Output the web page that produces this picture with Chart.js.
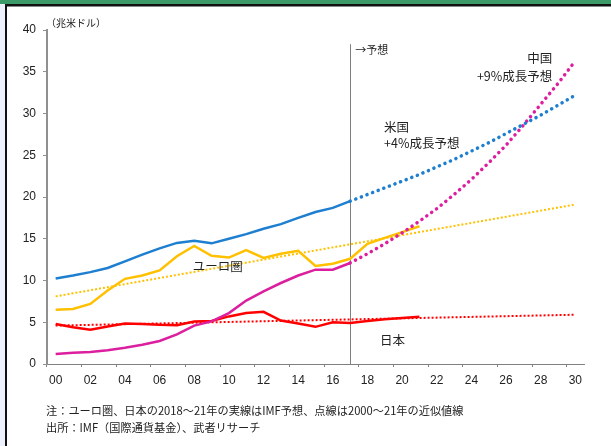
<!DOCTYPE html>
<html>
<head>
<meta charset="utf-8">
<script src="https://cdn.jsdelivr.net/npm/chart.js@4.4.1/dist/chart.umd.min.js"></script>
<style>
  html, body { margin: 0; padding: 0; background: #fff; }
  #wrap { width: 611px; height: 446px; position: relative; }
</style>
</head>
<body>
<div id="wrap"><canvas id="gdpChart" width="611" height="446"></canvas></div>
<script>
// years 2000-2030, labelled every second year
const years = ['00','01','02','03','04','05','06','07','08','09','10','11','12','13','14','15',
               '16','17','18','19','20','21','22','23','24','25','26','27','28','29','30'];

// 兆米ドル
const usActual = [10.25, 10.6, 11.0, 11.5, 12.3, 13.1, 13.85, 14.5, 14.75, 14.45, 15.0, 15.55,
                  16.2, 16.75, 17.5, 18.2, 18.7, 19.5];
const usForecast = [19.5, 20.3, 21.1, 21.9, 22.7, 23.6, 24.5, 25.5, 26.5, 27.6, 28.7, 29.8, 31.0, 32.2];

const chinaActual = [1.2, 1.35, 1.45, 1.65, 1.95, 2.3, 2.75, 3.55, 4.6, 5.1, 6.1, 7.6,
                     8.7, 9.7, 10.6, 11.3, 11.3, 12.1];
const chinaForecast = [12.1, 13.2, 14.4, 15.7, 17.1, 18.6, 20.3, 22.1, 24.1, 26.2, 28.6, 31.1, 33.6, 36.3];

const euroActual = [6.5, 6.6, 7.2, 8.8, 10.2, 10.6, 11.2, 12.9, 14.15, 12.95, 12.75, 13.65,
                    12.7, 13.2, 13.55, 11.75, 12.0, 12.6, 14.4, 15.1, 15.8, 16.5];
const euroTrendEnds = [8.1, 19.1];

const japanActual = [4.8, 4.4, 4.1, 4.5, 4.85, 4.8, 4.7, 4.65, 5.1, 5.15, 5.7, 6.1,
                     6.25, 5.2, 4.85, 4.45, 5.0, 4.9, 5.15, 5.35, 5.5, 5.65];
const japanTrendEnds = [4.6, 5.9];

const forecastStart = 17; // index of 2017

// pad a series out to the full 2000-2030 range
function fromIndex(start, values) {
  const out = new Array(years.length).fill(null);
  values.forEach((v, i) => { out[start + i] = v; });
  return out;
}
function trend(ends) {
  const out = new Array(years.length).fill(null);
  out[0] = ends[0];
  out[years.length - 1] = ends[1];
  return out;
}

const BLUE = '#1e7fd0', YELLOW = '#ffc000', RED = '#ff0000', MAGENTA = '#dc1f9e';
const JP = '"Noto Sans CJK JP", sans-serif';

const solid = (data, color) => ({ data, borderColor: color, borderWidth: 2.5, fill: false, tension: 0 });
const dots = (data, color) => ({ data, borderColor: color, borderWidth: 3.5, borderDash: [0.1, 5.9],
                                 borderCapStyle: 'round', fill: false, tension: 0 });
const fine = (data, color) => ({ data, borderColor: color, borderWidth: 2, borderDash: [2, 2],
                                 fill: false, spanGaps: true, tension: 0 });

// labels placed in data units: x = year index, y = value
const notes = [
  { text: '→予想', x: 17.3, y: 37.6, align: 'left', size: 11 },
  { text: '中国', x: 28.67, y: 36.6, align: 'right', size: 12.5 },
  { text: '+9%成長予想', x: 28.67, y: 34.5, align: 'right', size: 12.5 },
  { text: '米国', x: 18.96, y: 28.4, align: 'left', size: 12.5 },
  { text: '+4%成長予想', x: 18.96, y: 26.4, align: 'left', size: 12.5 },
  { text: 'ユーロ圏', x: 7.92, y: 11.76, align: 'left', size: 12.5 },
  { text: '日本', x: 18.73, y: 2.9, align: 'left', size: 12.5 }
];

const framePlugin = {
  id: 'frame',
  beforeDraw(chart) {
    const ctx = chart.ctx;
    ctx.save();
    ctx.fillStyle = '#ffffff';
    ctx.fillRect(0, 0, chart.width, chart.height);
    ctx.fillStyle = '#eef0fb';
    ctx.fillRect(0, 0, 5, chart.height);
    ctx.fillStyle = '#111';
    ctx.fillRect(5, 0, 2, chart.height);
    ctx.fillStyle = '#3c9a68';
    ctx.fillRect(0, 0, chart.width, 4);
    ctx.fillStyle = '#111';
    ctx.fillRect(5, 4, chart.width - 5, 2.5);
    ctx.restore();
  },
  beforeDatasetsDraw(chart) {
    const { ctx, scales: { x, y } } = chart;
    const px = Math.round(x.getPixelForValue(forecastStart)) + 0.5;
    ctx.save();
    ctx.strokeStyle = '#808080';
    ctx.lineWidth = 1;
    ctx.beginPath();
    ctx.moveTo(px, y.getPixelForValue(38.3));
    ctx.lineTo(px, y.getPixelForValue(0));
    ctx.stroke();
    ctx.restore();
  },
  afterDraw(chart) {
    const { ctx, scales: { x, y } } = chart;
    ctx.save();
    ctx.fillStyle = '#222';
    ctx.textBaseline = 'middle';
    notes.forEach(n => {
      ctx.font = n.size + 'px ' + JP;
      ctx.textAlign = n.align;
      ctx.fillText(n.text, x.getPixelForValue(n.x), y.getPixelForValue(n.y));
    });
    // unit and footnotes
    ctx.textAlign = 'left';
    ctx.font = '10px ' + JP;
    ctx.fillText('（兆米ドル）', 46, 23);
    ctx.font = '11.2px ' + JP;
    ctx.fillText('注：ユーロ圏、日本の2018～21年の実線はIMF予想、点線は2000～21年の近似値線', 46, 411);
    ctx.fillText('出所：IMF（国際通貨基金）、武者リサーチ', 46, 428);
    ctx.restore();
  }
};

new Chart(document.getElementById('gdpChart'), {
  type: 'line',
  data: {
    labels: years,
    datasets: [
      solid(fromIndex(0, usActual), BLUE),
      dots(fromIndex(forecastStart, usForecast), BLUE),
      dots(fromIndex(forecastStart, chinaForecast), MAGENTA),
      solid(fromIndex(0, chinaActual), MAGENTA),
      solid(fromIndex(0, euroActual), YELLOW),
      fine(trend(euroTrendEnds), YELLOW),
      solid(fromIndex(0, japanActual), RED),
      fine(trend(japanTrendEnds), RED)
    ]
  },
  options: {
    responsive: false,
    animation: false,
    layout: { padding: { left: 0, right: 27, top: 30, bottom: 0 } },
    elements: { point: { radius: 0, hoverRadius: 0 } },
    plugins: { legend: { display: false }, tooltip: { enabled: false } },
    scales: {
      x: {
        type: 'category',
        offset: true,
        grid: {
          offset: true,
          drawOnChartArea: false,
          tickLength: 3,
          tickColor: c => (c.index % 2 === 0 ? '#808080' : 'rgba(0,0,0,0)')
        },
        border: { color: '#808080', width: 1 },
        ticks: {
          autoSkip: false,
          maxRotation: 0,
          padding: 6,
          color: '#222',
          font: { family: '"Liberation Sans", Arial, sans-serif', size: 12 },
          callback: (v, i) => (i % 2 === 0 ? years[i] : '')
        },
        afterFit: s => { s.height = 82; }
      },
      y: {
        min: 0,
        max: 40,
        grid: { drawOnChartArea: false, tickLength: 4, color: '#909090' },
        border: { color: '#909090', width: 2 },
        ticks: {
          stepSize: 5,
          padding: 7,
          color: '#222',
          font: { family: '"Liberation Sans", Arial, sans-serif', size: 12 }
        },
        afterFit: s => { s.width = 47; }
      }
    }
  },
  plugins: [framePlugin]
});
</script>
</body>
</html>
